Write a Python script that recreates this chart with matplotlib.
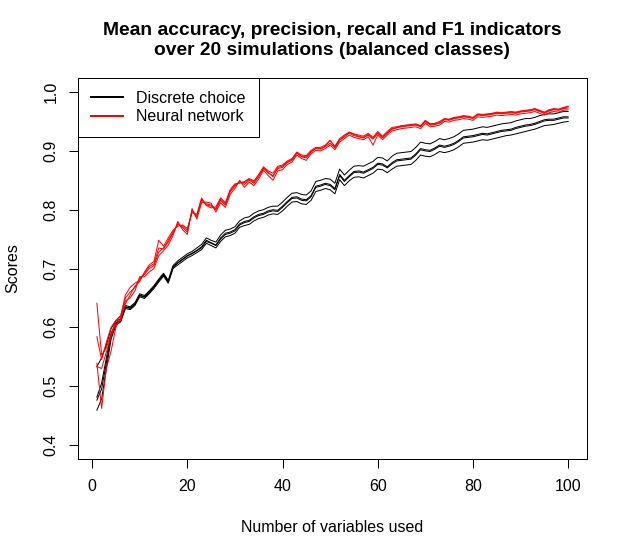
#!/usr/bin/env python3
"""
Mean accuracy / precision / recall / F1 over 20 simulations (balanced classes)
"""
import matplotlib
matplotlib.use('Agg')  # 非交互式后端
import matplotlib.pyplot as plt
from matplotlib.lines import Line2D

n_vars = list(range(1, 101))

# Discrete choice
dc_accuracy = [
    0.481, 0.505, 0.548, 0.590, 0.608, 0.612, 0.635, 0.633, 0.640, 0.655,
    0.652, 0.660, 0.669, 0.680, 0.690, 0.678, 0.703, 0.710, 0.716, 0.722,
    0.726, 0.731, 0.737, 0.748, 0.744, 0.740, 0.752, 0.760, 0.762, 0.766,
    0.776, 0.780, 0.782, 0.788, 0.792, 0.794, 0.798, 0.800, 0.799, 0.806,
    0.814, 0.821, 0.822, 0.818, 0.817, 0.824, 0.840, 0.842, 0.845, 0.843,
    0.836, 0.860, 0.850, 0.858, 0.865, 0.866, 0.864, 0.868, 0.872, 0.879,
    0.878, 0.873, 0.880, 0.885, 0.886, 0.887, 0.888, 0.895, 0.904, 0.902,
    0.901, 0.905, 0.910, 0.908, 0.910, 0.913, 0.918, 0.924, 0.925, 0.926,
    0.928, 0.930, 0.929, 0.931, 0.933, 0.935, 0.936, 0.937, 0.940, 0.942,
    0.944, 0.945, 0.947, 0.950, 0.953, 0.954, 0.954, 0.956, 0.958, 0.958,
]
dc_f1 = [
    0.476, 0.495, 0.540, 0.585, 0.606, 0.611, 0.634, 0.632, 0.639, 0.654,
    0.651, 0.659, 0.668, 0.679, 0.689, 0.677, 0.702, 0.709, 0.715, 0.721,
    0.725, 0.730, 0.735, 0.746, 0.743, 0.739, 0.750, 0.758, 0.760, 0.764,
    0.774, 0.778, 0.780, 0.786, 0.790, 0.792, 0.796, 0.798, 0.797, 0.804,
    0.812, 0.819, 0.820, 0.816, 0.815, 0.822, 0.838, 0.840, 0.843, 0.841,
    0.834, 0.858, 0.848, 0.856, 0.863, 0.864, 0.862, 0.866, 0.870, 0.877,
    0.876, 0.871, 0.878, 0.883, 0.884, 0.885, 0.886, 0.893, 0.902, 0.900,
    0.899, 0.903, 0.908, 0.906, 0.908, 0.911, 0.916, 0.922, 0.923, 0.924,
    0.926, 0.928, 0.927, 0.929, 0.931, 0.933, 0.934, 0.935, 0.938, 0.940,
    0.942, 0.943, 0.945, 0.948, 0.951, 0.952, 0.952, 0.954, 0.956, 0.956,
]
dc_precision = [
    0.533, 0.548, 0.570, 0.598, 0.611, 0.614, 0.637, 0.635, 0.642, 0.657,
    0.654, 0.662, 0.671, 0.682, 0.692, 0.680, 0.705, 0.713, 0.719, 0.725,
    0.729, 0.735, 0.741, 0.752, 0.748, 0.745, 0.757, 0.765, 0.767, 0.771,
    0.781, 0.786, 0.788, 0.794, 0.798, 0.800, 0.804, 0.806, 0.806, 0.813,
    0.821, 0.828, 0.829, 0.826, 0.825, 0.832, 0.848, 0.850, 0.853, 0.852,
    0.845, 0.869, 0.859, 0.867, 0.874, 0.875, 0.874, 0.878, 0.882, 0.889,
    0.888, 0.883, 0.891, 0.896, 0.897, 0.898, 0.899, 0.906, 0.915, 0.913,
    0.912, 0.916, 0.921, 0.919, 0.921, 0.924, 0.929, 0.935, 0.936, 0.937,
    0.939, 0.941, 0.940, 0.942, 0.944, 0.946, 0.947, 0.948, 0.951, 0.953,
    0.955, 0.955, 0.957, 0.960, 0.962, 0.963, 0.963, 0.965, 0.967, 0.967,
]
dc_recall = [
    0.459, 0.478, 0.530, 0.580, 0.604, 0.609, 0.632, 0.630, 0.637, 0.652,
    0.649, 0.657, 0.666, 0.677, 0.687, 0.675, 0.700, 0.706, 0.712, 0.718,
    0.722, 0.727, 0.732, 0.743, 0.739, 0.735, 0.746, 0.754, 0.756, 0.760,
    0.770, 0.773, 0.775, 0.781, 0.785, 0.787, 0.791, 0.793, 0.792, 0.798,
    0.806, 0.813, 0.814, 0.810, 0.809, 0.816, 0.831, 0.833, 0.836, 0.834,
    0.827, 0.851, 0.841, 0.849, 0.855, 0.856, 0.854, 0.858, 0.862, 0.869,
    0.868, 0.863, 0.869, 0.874, 0.875, 0.876, 0.877, 0.884, 0.893, 0.891,
    0.890, 0.894, 0.899, 0.897, 0.899, 0.902, 0.907, 0.913, 0.914, 0.915,
    0.917, 0.919, 0.918, 0.920, 0.922, 0.924, 0.926, 0.927, 0.929, 0.931,
    0.933, 0.935, 0.937, 0.940, 0.943, 0.944, 0.945, 0.947, 0.949, 0.950,
]

# Neural network
nn_accuracy = [
    0.584, 0.545, 0.575, 0.600, 0.612, 0.620, 0.650, 0.660, 0.668, 0.683,
    0.690, 0.700, 0.705, 0.728, 0.735, 0.745, 0.760, 0.777, 0.770, 0.762,
    0.799, 0.788, 0.816, 0.810, 0.808, 0.800, 0.816, 0.808, 0.830, 0.840,
    0.848, 0.843, 0.850, 0.845, 0.856, 0.870, 0.862, 0.858, 0.870, 0.872,
    0.880, 0.884, 0.896, 0.890, 0.888, 0.898, 0.904, 0.903, 0.907, 0.913,
    0.905, 0.918, 0.924, 0.930, 0.926, 0.924, 0.922, 0.927, 0.920, 0.930,
    0.922, 0.930, 0.937, 0.939, 0.941, 0.942, 0.943, 0.944, 0.941, 0.950,
    0.944, 0.945, 0.947, 0.953, 0.952, 0.955, 0.956, 0.958, 0.957, 0.955,
    0.961, 0.960, 0.961, 0.962, 0.964, 0.963, 0.964, 0.965, 0.964, 0.966,
    0.967, 0.968, 0.970, 0.967, 0.964, 0.968, 0.970, 0.969, 0.972, 0.973,
]
nn_precision = [
    0.641, 0.553, 0.565, 0.590, 0.605, 0.612, 0.640, 0.655, 0.670, 0.678,
    0.694, 0.706, 0.712, 0.748, 0.738, 0.752, 0.765, 0.772, 0.774, 0.768,
    0.795, 0.792, 0.820, 0.807, 0.803, 0.805, 0.820, 0.812, 0.834, 0.844,
    0.845, 0.848, 0.853, 0.849, 0.860, 0.873, 0.866, 0.862, 0.874, 0.876,
    0.883, 0.887, 0.898, 0.893, 0.892, 0.901, 0.906, 0.906, 0.910, 0.918,
    0.908, 0.921, 0.927, 0.932, 0.929, 0.927, 0.925, 0.930, 0.923, 0.933,
    0.925, 0.933, 0.940, 0.941, 0.943, 0.944, 0.945, 0.946, 0.943, 0.952,
    0.946, 0.947, 0.950, 0.955, 0.954, 0.957, 0.958, 0.960, 0.959, 0.957,
    0.963, 0.962, 0.963, 0.964, 0.966, 0.965, 0.966, 0.967, 0.966, 0.968,
    0.969, 0.970, 0.972, 0.969, 0.966, 0.970, 0.972, 0.971, 0.974, 0.976,
]
nn_recall = [
    0.539, 0.462, 0.530, 0.560, 0.600, 0.615, 0.645, 0.650, 0.662, 0.686,
    0.686, 0.694, 0.700, 0.722, 0.730, 0.740, 0.756, 0.780, 0.766, 0.758,
    0.802, 0.784, 0.812, 0.813, 0.811, 0.796, 0.812, 0.804, 0.826, 0.836,
    0.850, 0.838, 0.847, 0.841, 0.852, 0.867, 0.858, 0.850, 0.866, 0.868,
    0.877, 0.881, 0.893, 0.887, 0.884, 0.895, 0.901, 0.900, 0.904, 0.910,
    0.902, 0.915, 0.921, 0.927, 0.923, 0.921, 0.919, 0.924, 0.910, 0.927,
    0.919, 0.927, 0.934, 0.936, 0.938, 0.939, 0.940, 0.941, 0.938, 0.947,
    0.941, 0.942, 0.944, 0.950, 0.949, 0.952, 0.953, 0.955, 0.954, 0.952,
    0.958, 0.957, 0.958, 0.959, 0.961, 0.960, 0.961, 0.962, 0.961, 0.963,
    0.964, 0.965, 0.967, 0.964, 0.961, 0.965, 0.967, 0.966, 0.969, 0.970,
]
nn_f1 = [
    0.533, 0.530, 0.558, 0.585, 0.610, 0.618, 0.655, 0.668, 0.675, 0.680,
    0.692, 0.703, 0.708, 0.735, 0.733, 0.748, 0.762, 0.775, 0.772, 0.765,
    0.797, 0.790, 0.818, 0.808, 0.806, 0.802, 0.818, 0.810, 0.832, 0.842,
    0.847, 0.846, 0.852, 0.847, 0.858, 0.871, 0.864, 0.856, 0.872, 0.874,
    0.881, 0.886, 0.897, 0.891, 0.890, 0.899, 0.905, 0.904, 0.908, 0.918,
    0.906, 0.919, 0.925, 0.931, 0.928, 0.925, 0.923, 0.928, 0.921, 0.931,
    0.923, 0.931, 0.938, 0.940, 0.942, 0.943, 0.944, 0.945, 0.942, 0.951,
    0.945, 0.946, 0.948, 0.954, 0.953, 0.956, 0.957, 0.959, 0.958, 0.956,
    0.962, 0.961, 0.962, 0.963, 0.965, 0.964, 0.965, 0.966, 0.965, 0.967,
    0.968, 0.969, 0.971, 0.968, 0.965, 0.969, 0.971, 0.970, 0.973, 0.975,
]

x_ticks = [0, 20, 40, 60, 80, 100]
y_ticks = [0.4, 0.5, 0.6, 0.7, 0.8, 0.9, 1.0]
legend_labels = ['Discrete choice', 'Neural network']


def main():
    plt.rcParams['font.family'] = ['Liberation Sans', 'DejaVu Sans']
    dpi = 96
    fig = plt.figure(figsize=(629 / dpi, 557 / dpi), dpi=dpi)
    W, H = 629, 557
    ax = fig.add_axes([78 / W, (H - 459) / H, (587 - 78) / W, (459 - 78) / H])

    for series in [dc_accuracy, dc_precision, dc_recall, dc_f1]:
        ax.plot(n_vars, series, color='black', lw=0.75)
    for series in [nn_accuracy, nn_precision, nn_recall, nn_f1]:
        ax.plot(n_vars, series, color='red', lw=0.75)

    # R 风格坐标轴 (4% 扩展)
    span_x = max(n_vars) - min(n_vars)
    ax.set_xlim(min(n_vars) - 0.04 * span_x, max(n_vars) + 0.04 * span_x)
    ax.set_ylim(0.4 - 0.04 * 0.6, 1.0 + 0.04 * 0.6)
    ax.set_xticks(x_ticks)
    ax.set_xticklabels([str(v) for v in x_ticks])
    ax.set_yticks(y_ticks)
    ax.set_yticklabels([f'{v:.1f}' for v in y_ticks], rotation=90, va='center')
    ax.tick_params(direction='out', length=6.75, width=0.75, labelsize=12,
                   pad=8, colors='black')
    for sp in ax.spines.values():
        sp.set_linewidth(0.75)
        sp.set_color('black')

    ax.set_xlabel('Number of variables used', fontsize=12, labelpad=20)
    ax.set_ylabel('Scores', fontsize=12, labelpad=17)

    fig.text((78 + 587) / 2 / W, 1 - 40.5 / H,
             'Mean accuracy, precision, recall and F1 indicators\n'
             'over 20 simulations (balanced classes)',
             ha='center', va='center', fontsize=14.4, fontweight='bold',
             linespacing=1.3)

    handles = [Line2D([], [], color='black', lw=1.5),
               Line2D([], [], color='red', lw=1.5)]
    leg = ax.legend(handles, legend_labels, loc='upper left', fontsize=12,
                    borderaxespad=0, fancybox=False, framealpha=1,
                    edgecolor='black', borderpad=0.8, labelspacing=0.22,
                    handlelength=2.0, handletextpad=0.85)
    leg.get_frame().set_linewidth(0.75)

    plt.savefig('out.png', dpi=dpi)
    plt.close()
    print("saved out.png")


if __name__ == '__main__':
    main()
